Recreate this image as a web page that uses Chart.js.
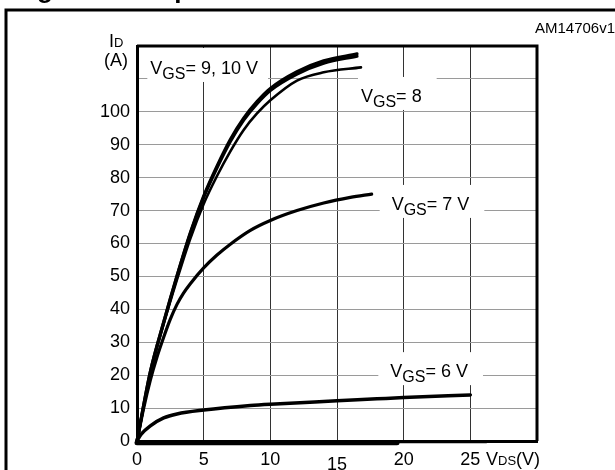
<!DOCTYPE html>
<html lang="en">
<head>
    <meta charset="UTF-8">
    <title>Output characteristics</title>
    <script src="https://cdn.jsdelivr.net/npm/chart.js@4.4.1/dist/chart.umd.min.js"></script>
    <style>
        body {
            margin: 0;
            background: white;
        }
        #chart {
            display: block;
        }
    </style>
</head>
<body>
    <canvas id="chart" width="615" height="470"></canvas>

    <script>
        // curves: VDS in volts, ID in amps
        const vds10 = [0, 1, 2, 3, 4, 5, 6, 7, 8, 9, 10, 12, 14, 16.5];
        const id10 = [0, 21, 36.1, 50.2, 63.3, 74.4, 83.5, 91.6, 98.1, 103.1, 107.1, 112.2, 115.5, 117.6];
        const vds9 = [0, 1, 2, 3, 4, 5, 6, 7, 8, 9, 10, 12, 14, 16.5];
        const id9 = [0, 21, 36, 50, 63, 74, 83, 91, 97.5, 102.5, 106.5, 111.5, 114.8, 116.9];
        const vds8 = [0, 1, 2, 3, 4, 5, 6, 7, 8, 9, 10, 12, 14, 16.8];
        const id8 = [0, 20.5, 35.5, 49, 61.5, 72, 80.5, 88, 94.5, 99.5, 103.5, 109.5, 112, 113.5];
        const vds7 = [0, 0.5, 1, 1.5, 2, 2.5, 3, 3.5, 4, 5, 6, 7, 8.5, 10, 12, 14, 16, 17.6];
        const id7 = [0, 10, 18.5, 25.5, 31.5, 37, 41.5, 45, 47.8, 52.6, 56.5, 59.8, 64, 67, 70, 72.3, 74, 75];
        const vds6 = [0, 0.3, 1, 2, 3, 5, 8.5, 10, 15, 18, 20, 25];
        const id6 = [0, 2, 4.6, 7, 8.2, 9.4, 10.8, 11.2, 12.2, 12.8, 13.2, 14];
        const vdsLow = [0, 19.5];
        const idLow = [-0.5, -0.5];
        const vdsLow2 = [0, 26.2];
        const idLow2 = [-0.2, -0.2];

        const xTicks = [0, 5, 10, 15, 20, 25];
        const yTicks = [0, 10, 20, 30, 40, 50, 60, 70, 80, 90, 100];

        // curve labels: [text after "V GS", VDS, ID] at text start / baseline
        const curveLabels = [
            ['= 9, 10 V', 1.0, 111.5],
            ['= 8', 16.8, 103],
            ['= 7 V', 19.1, 70.2],
            ['= 6 V', 19.0, 19.4]
        ];

        const FONT = '"Liberation Sans", Arial, sans-serif';

        function toPoints(xs, ys) {
            return xs.map((x, i) => ({ x: x, y: ys[i] }));
        }

        function curve(label, xs, ys, width) {
            return {
                label: label,
                data: toPoints(xs, ys),
                showLine: true,
                borderColor: '#000',
                borderWidth: width,
                pointRadius: 0,
                cubicInterpolationMode: 'monotone',
                borderCapStyle: 'round',
                clip: false
            };
        }

        function vgsWidth(ctx, rest) {
            ctx.font = '18px ' + FONT;
            let w = ctx.measureText('V').width;
            ctx.font = '16px ' + FONT;
            w += ctx.measureText('GS').width;
            ctx.font = '18px ' + FONT;
            return w + ctx.measureText(rest).width;
        }

        function drawVgs(ctx, x, y, rest) {
            ctx.fillStyle = '#000';
            ctx.textBaseline = 'alphabetic';
            ctx.textAlign = 'left';
            ctx.font = '18px ' + FONT;
            ctx.fillText('V', x, y);
            x += ctx.measureText('V').width;
            ctx.font = '16px ' + FONT;
            ctx.fillText('GS', x, y + 5);
            x += ctx.measureText('GS').width;
            ctx.font = '18px ' + FONT;
            ctx.fillText(rest, x, y);
        }

        // white boxes behind labels, above the grid but under the curves
        const labelBoxes = {
            id: 'labelBoxes',
            beforeDatasetsDraw(chart) {
                const ctx = chart.ctx;
                const xs = chart.scales.x, ys = chart.scales.y;
                const area = chart.chartArea;
                ctx.save();
                ctx.fillStyle = '#fff';
                curveLabels.forEach(([rest, vx, vy], i) => {
                    const px = xs.getPixelForValue(vx);
                    const py = ys.getPixelForValue(vy);
                    const w = vgsWidth(ctx, rest);
                    const left = i < 2 ? px - 3 : px - 12;
                    const top = i === 0 ? area.top + 2 : py - 25;
                    ctx.fillRect(left, top, w + (i === 0 ? 10 : 15) + (px - left), py + 8 - top);
                });
                ctx.restore();
            },
            afterDatasetsDraw(chart) {
                const ctx = chart.ctx;
                const xs = chart.scales.x, ys = chart.scales.y;
                ctx.save();
                curveLabels.forEach(([rest, vx, vy]) => {
                    drawVgs(ctx, xs.getPixelForValue(vx), ys.getPixelForValue(vy), rest);
                });
                ctx.restore();
            }
        };

        // frame, title remnant, code and axis titles
        const decorations = {
            id: 'decorations',
            afterDraw(chart) {
                const ctx = chart.ctx;
                const area = chart.chartArea;
                ctx.save();
                ctx.strokeStyle = '#000';
                ctx.lineWidth = 3;
                ctx.beginPath();
                ctx.moveTo(6, 470);
                ctx.lineTo(6, 10);
                ctx.lineTo(615, 10);
                ctx.stroke();

                ctx.fillStyle = '#000';
                ctx.textAlign = 'left';
                ctx.textBaseline = 'alphabetic';
                ctx.font = 'bold 26px ' + FONT;
                ctx.fillText('Figure 6. Output characteristics', 14, -2);

                ctx.font = '15px ' + FONT;
                ctx.textAlign = 'right';
                ctx.fillText('AM14706v1', 615, 33);

                // y title
                ctx.textAlign = 'left';
                ctx.font = '18px ' + FONT;
                ctx.fillText('I', area.left - 28, area.top + 1);
                ctx.font = '13px ' + FONT;
                ctx.fillText('D', area.left - 23, area.top + 1);
                ctx.font = '18px ' + FONT;
                ctx.fillText('(A)', area.left - 33, area.top + 20);

                // x title
                let x = area.right - 51;
                const y = area.bottom + 24;
                ctx.fillText('V', x, y);
                x += ctx.measureText('V').width;
                ctx.font = '13px ' + FONT;
                ctx.fillText('DS', x, y);
                x += ctx.measureText('DS').width;
                ctx.font = '18px ' + FONT;
                ctx.fillText('(V)', x, y);

                // top and right border of the plot
                ctx.lineWidth = 3;
                ctx.beginPath();
                ctx.moveTo(area.left, area.top);
                ctx.lineTo(area.right, area.top);
                ctx.lineTo(area.right, area.bottom);
                ctx.stroke();
                ctx.restore();
            }
        };

        const ctx = document.getElementById('chart').getContext('2d');
        new Chart(ctx, {
            type: 'scatter',
            data: {
                datasets: [
                    curve('VGS=10 V', vds10, id10, 3.2),
                    curve('VGS=9 V', vds9, id9, 3.2),
                    curve('VGS=8 V', vds8, id8, 2.6),
                    curve('VGS=7 V', vds7, id7, 3.2),
                    curve('VGS=6 V', vds6, id6, 3.5),
                    curve('low', vdsLow, idLow, 5),
                    curve('low2', vdsLow2, idLow2, 3)
                ]
            },
            options: {
                responsive: false,
                animation: false,
                devicePixelRatio: 1,
                layout: {
                    padding: { left: 0, right: 78, top: 46, bottom: 0 }
                },
                plugins: {
                    legend: { display: false },
                    tooltip: { enabled: false }
                },
                scales: {
                    x: {
                        type: 'linear',
                        min: 0,
                        max: 30,
                        afterFit: (scale) => { scale.height = 29; },
                        afterBuildTicks: (scale) => {
                            scale.ticks = [0, 5, 10, 15, 20, 25, 30].map(v => ({ value: v }));
                        },
                        ticks: {
                            color: '#000',
                            // the "15" sits a little lower in the original
                            font: (c) => ({
                                family: FONT,
                                size: 18,
                                lineHeight: c.tick && c.tick.value === 15 ? 1.75 : 1.2
                            }),
                            padding: 8,
                            maxRotation: 0,
                            callback: (v) => xTicks.includes(v) ? String(v) : ''
                        },
                        grid: {
                            color: '#333',
                            lineWidth: 1,
                            drawTicks: false
                        },
                        border: { color: '#000', width: 3 }
                    },
                    y: {
                        type: 'linear',
                        min: 0,
                        max: 120,
                        afterFit: (scale) => { scale.width = 137; },
                        afterBuildTicks: (scale) => {
                            const t = [];
                            for (let v = 0; v <= 120; v += 10) t.push({ value: v });
                            scale.ticks = t;
                        },
                        ticks: {
                            color: '#000',
                            font: { family: FONT, size: 18 },
                            padding: 7,
                            callback: (v) => yTicks.includes(v) ? String(v) : ''
                        },
                        grid: {
                            color: '#9a9a9a',
                            lineWidth: 1,
                            drawTicks: false
                        },
                        border: { color: '#000', width: 3 }
                    }
                }
            },
            plugins: [labelBoxes, decorations]
        });
    </script>
</body>
</html>
